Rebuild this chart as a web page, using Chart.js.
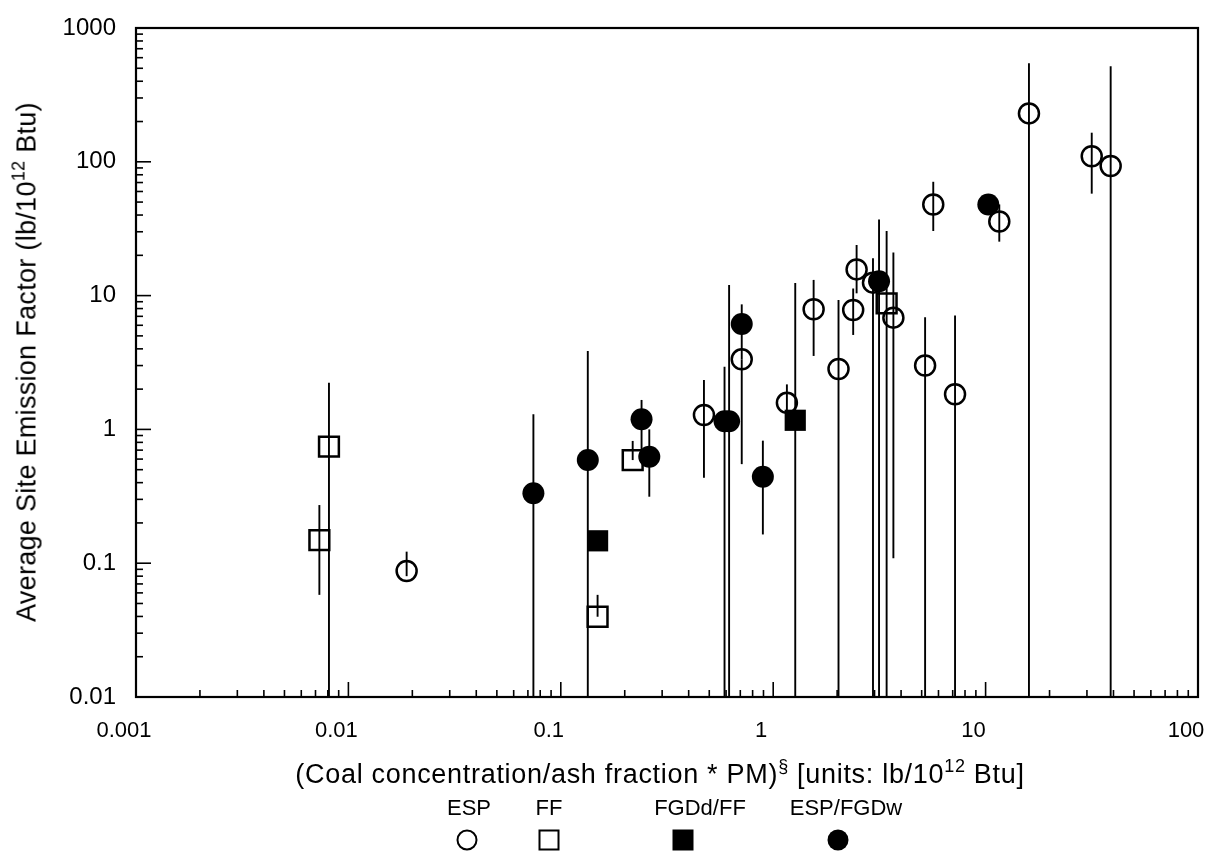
<!DOCTYPE html>
<html>
<head>
<meta charset="utf-8">
<script src="https://cdn.jsdelivr.net/npm/chart.js@4"></script>
<style>
  html, body { margin: 0; padding: 0; background: #fff; }
  #wrap { position: relative; width: 1225px; height: 856px; font-family: "Liberation Sans", Arial, Helvetica, sans-serif; color: #000; }
  #wrap canvas { position: absolute; left: 0; top: 0; }
  .ttl { position: absolute; white-space: nowrap; font-size: 27px; transform: translate(-50%, -50%); }
  .ttl sup { font-size: 18px; vertical-align: 0; position: relative; top: -11px; }
  #ytitle { transform: translate(-50%, -50%) rotate(-90deg); letter-spacing: 0.3px; }
  #xtitle { letter-spacing: 0.7px; }
  .lg { position: absolute; font-size: 22px; transform: translate(-50%, -50%); white-space: nowrap; }
  .sym { position: absolute; box-sizing: border-box; transform: translate(-50%, -50%); }
</style>
</head>
<body>
<div id="wrap">
  <canvas id="chart" width="1225" height="856"></canvas>
  <div id="ytitle" class="ttl" style="left:27px; top:362px;">Average Site Emission Factor (lb/10<sup>12</sup> Btu)</div>
  <div id="xtitle" class="ttl" style="left:660px; top:774px;">(Coal concentration/ash fraction * PM)<sup>§</sup> [units: lb/10<sup>12</sup> Btu]</div>
  <div class="lg" style="left:469px; top:808px;">ESP</div>
  <div class="lg" style="left:549px; top:808px;">FF</div>
  <div class="lg" style="left:700px; top:808px;">FGDd/FF</div>
  <div class="lg" style="left:846px; top:808px;">ESP/FGDw</div>
  <div class="sym" style="left:467px; top:840px; width:21px; height:21px; border:2.5px solid #000; border-radius:50%;"></div>
  <div class="sym" style="left:549px; top:840px; width:21px; height:21px; border:2.5px solid #000;"></div>
  <div class="sym" style="left:683px; top:840px; width:21px; height:21px; background:#000;"></div>
  <div class="sym" style="left:838px; top:840px; width:21px; height:21px; background:#000; border-radius:50%;"></div>
</div>
<script>
// axis ticks
const xTickValues = [0.001, 0.01, 0.1, 1, 10, 100];
const xTickLabels = ['0.001', '0.01', '0.1', '1', '10', '100'];
const yTickValues = [0.01, 0.1, 1, 10, 100, 1000];
const yTickLabels = ['0.01', '0.1', '1', '10', '100', '1000'];

// ESP (open circles)
const espX    = [0.0188, 0.472, 0.711, 1.16, 1.55, 2.03, 2.38, 2.47, 2.95, 3.68, 5.19, 5.67, 7.18, 11.6, 16, 31.6, 38.8];
const espY    = [0.0875, 1.28, 3.34, 1.58, 7.9, 2.83, 7.8, 15.7, 12.5, 6.84, 3.0, 48, 1.83, 35.8, 230, 110, 93];
const espLow  = [0.08, 0.435, 0.55, 1.3, 3.54, 0.01, 5.08, 10.4, 0.01, 0.109, 0.01, 30.4, 0.01, 25.3, 0.01, 57.8, 0.01];
const espHigh = [0.122, 2.34, 3.34, 2.17, 13.1, 9.27, 11.3, 23.9, 19, 21, 6.88, 70.9, 7.1, 48, 545, 165, 518];

// FF (open squares)
const ffX    = [0.0073, 0.0081, 0.149, 0.218, 3.42];
const ffY    = [0.149, 0.743, 0.0398, 0.59, 8.76];
const ffLow  = [0.058, 0.01, 0.0398, 0.59, 0.01];
const ffHigh = [0.272, 2.23, 0.058, 0.82, 30.4];

// FGDd/FF (filled squares)
const fgdX    = [0.149, 1.27];
const fgdY    = [0.147, 1.17];
const fgdLow  = [0.147, 0.01];
const fgdHigh = [0.147, 12.4];

// ESP/FGDw (filled circles)
const wetX    = [0.0743, 0.134, 0.24, 0.261, 0.59, 0.62, 0.711, 0.894, 3.15, 10.3];
const wetY    = [0.333, 0.59, 1.19, 0.625, 1.15, 1.15, 6.13, 0.443, 12.8, 48];
const wetLow  = [0.01, 0.01, 0.63, 0.314, 0.01, 0.01, 3.34, 0.164, 0.01, 48];
const wetHigh = [1.30, 3.85, 1.66, 1.0, 2.94, 12.0, 8.6, 0.824, 37, 48];

const FONT = '"Liberation Sans", Arial, Helvetica, sans-serif';

function points(xs, ys) {
  return xs.map((x, i) => ({ x: x, y: ys[i] }));
}

// keep tick labels from pushing the plot area around
function noPadding(scale) {
  scale.paddingLeft = 0;
  scale.paddingRight = 0;
  scale.paddingTop = 0;
  scale.paddingBottom = 0;
}

// vertical error bars, drawn under the markers
const errorBars = {
  id: 'errorBars',
  beforeDatasetsDraw(chart) {
    const { ctx, chartArea, scales } = chart;
    ctx.save();
    ctx.beginPath();
    ctx.rect(chartArea.left, chartArea.top, chartArea.width, chartArea.height);
    ctx.clip();
    ctx.strokeStyle = '#000';
    ctx.lineWidth = 1.9;
    chart.data.datasets.forEach(ds => {
      ds.data.forEach((p, i) => {
        const lo = ds.errLow[i], hi = ds.errHigh[i];
        if (lo === hi) return;
        const px = scales.x.getPixelForValue(p.x);
        ctx.beginPath();
        ctx.moveTo(px, scales.y.getPixelForValue(hi));
        ctx.lineTo(px, scales.y.getPixelForValue(lo));
        ctx.stroke();
      });
    });
    ctx.restore();
  }
};

// box frame plus inward log ticks on left and bottom
const frameTicks = {
  id: 'frameTicks',
  afterDraw(chart) {
    const { ctx, chartArea: a, scales } = chart;
    ctx.save();
    ctx.strokeStyle = '#000';
    ctx.lineWidth = 2.2;
    ctx.strokeRect(a.left, a.top, a.width, a.height);
    ctx.lineWidth = 1.6;
    const drawTicks = (scale, horizontal) => {
      for (let d = scale.min; d < scale.max * 1.001; d *= 10) {
        for (let m = 1; m <= 9; m++) {
          const v = m * d;
          if (v > scale.max * 1.001) break;
          const len = m === 1 ? 15 : 7;
          const p = scale.getPixelForValue(v);
          ctx.beginPath();
          if (horizontal) {
            ctx.moveTo(p, a.bottom);
            ctx.lineTo(p, a.bottom - len);
          } else {
            ctx.moveTo(a.left, p);
            ctx.lineTo(a.left + len, p);
          }
          ctx.stroke();
        }
      }
    };
    drawTicks(scales.x, true);
    drawTicks(scales.y, false);
    ctx.restore();
  }
};

new Chart(document.getElementById('chart'), {
  type: 'scatter',
  data: {
    datasets: [
      {
        label: 'ESP',
        data: points(espX, espY), errLow: espLow, errHigh: espHigh,
        pointStyle: 'circle', pointRadius: 10, borderWidth: 2.5,
        borderColor: '#000', backgroundColor: 'rgba(0,0,0,0)'
      },
      {
        label: 'FF',
        data: points(ffX, ffY), errLow: ffLow, errHigh: ffHigh,
        pointStyle: 'rect', pointRadius: 14, borderWidth: 2.5,
        borderColor: '#000', backgroundColor: 'rgba(0,0,0,0)'
      },
      {
        label: 'FGDd/FF',
        data: points(fgdX, fgdY), errLow: fgdLow, errHigh: fgdHigh,
        pointStyle: 'rect', pointRadius: 15, borderWidth: 0,
        borderColor: '#000', backgroundColor: '#000'
      },
      {
        label: 'ESP/FGDw',
        data: points(wetX, wetY), errLow: wetLow, errHigh: wetHigh,
        pointStyle: 'circle', pointRadius: 11, borderWidth: 0,
        borderColor: '#000', backgroundColor: '#000'
      }
    ]
  },
  options: {
    responsive: false,
    animation: false,
    events: [],
    layout: { padding: { left: 0, top: 28, right: 27, bottom: 0 } },
    plugins: {
      legend: { display: false },
      tooltip: { enabled: false }
    },
    scales: {
      x: {
        type: 'logarithmic',
        min: 0.001,
        max: 100,
        afterBuildTicks: scale => { scale.ticks = xTickValues.map(v => ({ value: v })); },
        afterFit: scale => { scale.height = 159; noPadding(scale); },
        grid: { display: false, drawTicks: false },
        border: { display: false },
        ticks: {
          autoSkip: false,
          maxRotation: 0,
          padding: 21,
          labelOffset: -12,
          color: '#000',
          font: { family: FONT, size: 22 },
          callback: (v, i) => xTickLabels[i]
        }
      },
      y: {
        type: 'logarithmic',
        min: 0.01,
        max: 1000,
        afterBuildTicks: scale => { scale.ticks = yTickValues.map(v => ({ value: v })); },
        afterFit: scale => { scale.width = 136; noPadding(scale); },
        grid: { display: false, drawTicks: false },
        border: { display: false },
        ticks: {
          autoSkip: false,
          padding: 20,
          color: '#000',
          font: { family: FONT, size: 24 },
          callback: (v, i) => yTickLabels[i]
        }
      }
    }
  },
  plugins: [errorBars, frameTicks]
});
</script>
</body>
</html>
